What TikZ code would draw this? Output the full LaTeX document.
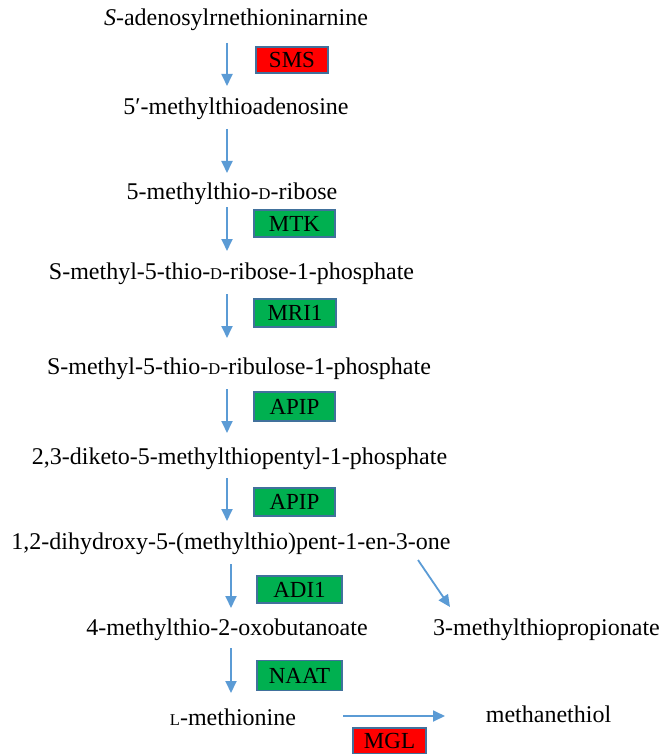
\documentclass[tikz,border=0pt]{standalone}
\usepackage{fontspec}
\setmainfont{Liberation Serif}
\usetikzlibrary{arrows.meta}
\definecolor{arrblue}{HTML}{5B9BD5}
\definecolor{boxedge}{HTML}{41719C}
\definecolor{enzgreen}{HTML}{00B050}
\newcommand{\smc}[1]{{\fontsize{16.5}{18}\selectfont #1}}
\begin{document}
\begin{tikzpicture}[x=1pt,y=-1pt,
  met/.style={inner sep=0pt, text height=16pt, text depth=5pt, font=\fontsize{24}{26}\selectfont},
  enz/.style={draw=boxedge, line width=1.5pt, inner sep=0pt, minimum width=#1, minimum height=27pt, font=\fontsize{23}{25}\selectfont, text height=15.5pt, text depth=0.5pt},
  red/.style={fill=red},
  grn/.style={fill=enzgreen},
  arr/.style={draw=arrblue, line width=1.8pt, -{Triangle[width=11pt,length=12pt]}}]
\useasboundingbox (0,0) rectangle (660,754);
% metabolites
\node[met] (m1) at (236,20) {\textit{S}-adenosylrnethioninarnine};
\node[met] (m2) at (236,109) {5′-methylthioadenosine};
\node[met] (m3) at (232,194) {5-methylthio-\smc{D}-ribose};
\node[met] (m4) at (231.5,274) {S-methyl-5-thio-\smc{D}-ribose-1-phosphate};
\node[met] (m5) at (239,369) {S-methyl-5-thio-\smc{D}-ribulose-1-phosphate};
\node[met] (m6) at (239.5,459) {2,3-diketo-5-methylthiopentyl-1-phosphate};
\node[met] (m7) at (231,544) {1,2-dihydroxy-5-(methylthio)pent-1-en-3-one};
\node[met] (m8) at (227,630) {4-methylthio-2-oxobutanoate};
\node[met] (m9) at (546.5,630) {3-methylthiopropionate};
\node[met] (m10) at (233,720) {\smc{L}-methionine};
\node[met] (m11) at (548.5,717) {methanethiol};
% enzymes
\node[enz=72pt, red, minimum height=26pt] (e1) at (292,60) {SMS};
\node[enz=81pt, grn] (e2) at (294.5,223.5) {MTK};
\node[enz=82pt, grn, minimum height=28pt] (e3) at (295,313) {MRI1};
\node[enz=81pt, grn, minimum height=29pt] (e4) at (294.5,406.5) {APIP};
\node[enz=81pt, grn, minimum height=28pt] (e5) at (294.5,502) {APIP};
\node[enz=85pt, grn] (e6) at (299.5,589.5) {ADI1};
\node[enz=85pt, grn, minimum height=30pt] (e7) at (299.5,675.5) {NAAT};
\node[enz=73pt, red, minimum height=26pt] (e8) at (389.5,741) {MGL};
% arrow coordinates
\coordinate (a1s) at (227,43);  \coordinate (a1e) at (227,86);
\coordinate (a2s) at (227,129); \coordinate (a2e) at (227,173);
\coordinate (a3s) at (227,207); \coordinate (a3e) at (227,251);
\coordinate (a4s) at (227,294); \coordinate (a4e) at (227,338);
\coordinate (a5s) at (227,389); \coordinate (a5e) at (227,433);
\coordinate (a6s) at (227,478); \coordinate (a6e) at (227,521);
\coordinate (a7s) at (231,564); \coordinate (a7e) at (231,608);
\coordinate (a8s) at (418,560); \coordinate (a8e) at (450,607);
\coordinate (a9s) at (231,648); \coordinate (a9e) at (231,693);
\coordinate (a10s) at (343,716); \coordinate (a10e) at (445,716);
\draw[arr] (a1s) -- (a1e);
\draw[arr] (a2s) -- (a2e);
\draw[arr] (a3s) -- (a3e);
\draw[arr] (a4s) -- (a4e);
\draw[arr] (a5s) -- (a5e);
\draw[arr] (a6s) -- (a6e);
\draw[arr] (a7s) -- (a7e);
\draw[arr] (a8s) -- (a8e);
\draw[arr] (a9s) -- (a9e);
\draw[arr] (a10s) -- (a10e);
\end{tikzpicture}
\end{document}
